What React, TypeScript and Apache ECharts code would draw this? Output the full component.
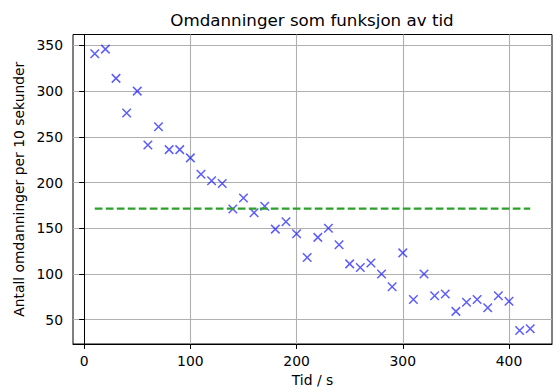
import React, { useEffect, useRef } from "react";
import * as echarts from "echarts";

const times = [10, 20, 30, 40, 50, 60, 70, 80, 90, 100, 110, 120, 130, 140, 150, 160, 170, 180, 190, 200, 210, 220, 230, 240, 250, 260, 270, 280, 290, 300, 310, 320, 330, 340, 350, 360, 370, 380, 390, 400, 410, 420];
const counts = [341, 346, 314, 276, 300, 241, 261, 236, 236, 227, 209, 202, 199, 171, 183, 167, 174, 149, 157, 144, 118, 140, 150, 132, 111, 107, 112, 100, 86, 123, 72, 100, 76, 78, 59, 69, 72, 63, 76, 70, 38, 40];
const refLevel = 171.5;
const xTicks = [0, 100, 200, 300, 400];
const yTicks = [50, 100, 150, 200, 250, 300, 350];

const FONT = "DejaVu Sans";

export default function App() {
  const ref = useRef<HTMLDivElement>(null);
  useEffect(() => {
    if (!ref.current) return;
    const chart = echarts.init(ref.current, undefined, { renderer: "svg" });
    const pts = times.map((t, i) => [t, counts[i]]);
    const lineData = [
      [times[0], refLevel],
      [times[times.length - 1], refLevel],
    ];
    chart.setOption({
      animation: false,
      backgroundColor: "#ffffff",
      textStyle: { fontFamily: FONT },
      title: {
        text: "Omdanninger som funksjon av tid",
        left: 312,
        top: 11,
        textAlign: "center",
        padding: 0,
        textStyle: { fontFamily: FONT, fontSize: 16.7, fontWeight: "normal", color: "#000" },
      },
      grid: {
        left: 73,
        right: 6,
        top: 34.5,
        bottom: 44,
        show: true,
        borderColor: "#000",
        borderWidth: 1,
        backgroundColor: "transparent",
      },
      xAxis: {
        type: "value",
        min: -10.5,
        max: 440.5,
        name: "Tid / s",
        nameLocation: "middle",
        nameGap: 29,
        nameTextStyle: { fontFamily: FONT, fontSize: 13.9, color: "#000" },
        axisLine: { show: true, lineStyle: { color: "#000", width: 1 } },
        axisTick: { show: true, length: 5, lineStyle: { color: "#000", width: 1 }, customValues: xTicks },
        axisLabel: { customValues: xTicks, fontFamily: FONT, fontSize: 13.9, color: "#000", margin: 10 },
        splitLine: { show: true, lineStyle: { color: "#b0b0b0", width: 1.1 } },
      },
      yAxis: {
        type: "value",
        min: 23.3,
        max: 362,
        name: "Antall omdanninger per 10 sekunder",
        nameLocation: "middle",
        nameGap: 45,
        nameTextStyle: { fontFamily: FONT, fontSize: 13.9, color: "#000" },
        axisLine: { show: true, lineStyle: { color: "#000", width: 1 } },
        axisTick: { show: true, length: 5, lineStyle: { color: "#000", width: 1 }, customValues: yTicks },
        axisLabel: { customValues: yTicks, fontFamily: FONT, fontSize: 13.9, color: "#000", margin: 10 },
        splitLine: { show: true, lineStyle: { color: "#b0b0b0", width: 1.1 } },
      },
      series: [
        {
          type: "scatter",
          data: pts,
          symbol: "path://M0,0L10,10M10,0L0,10",
          symbolSize: 8.5,
          itemStyle: { color: "transparent", borderColor: "rgba(0,0,255,0.8)", borderWidth: 1.5 },
          z: 2,
        },
        {
          type: "line",
          data: lineData,
          symbol: "none",
          lineStyle: { color: "#2ca02c", width: 2.1, type: [7.7, 3.3] },
          z: 3,
        },
      ],
    });
    return () => chart.dispose();
  }, []);
  return (
    <div
      ref={ref}
      style={{ position: "fixed", left: 0, top: 0, width: 558, height: 392 }}
    />
  );
}
